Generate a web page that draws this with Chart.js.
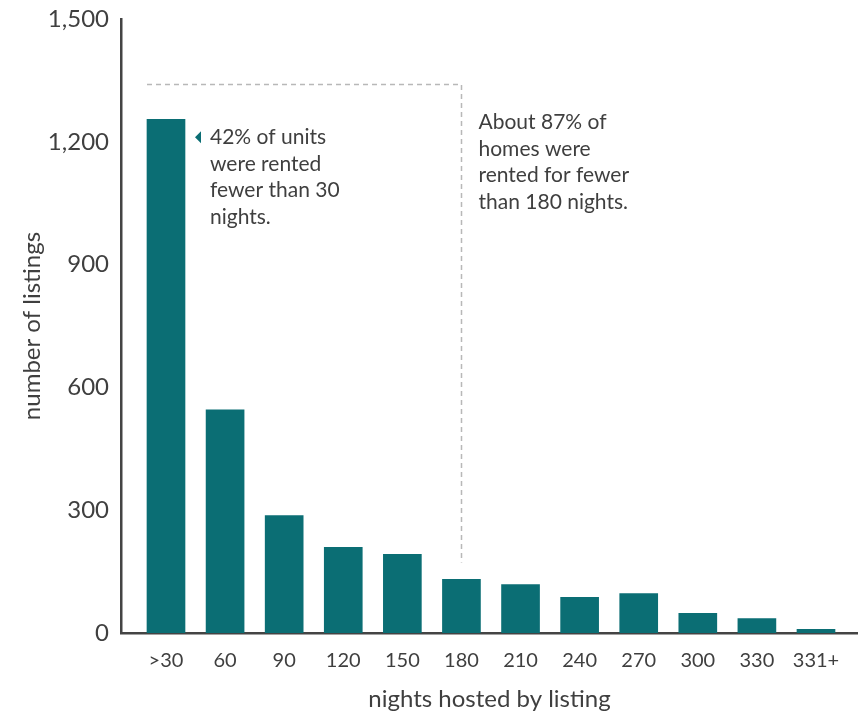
<!DOCTYPE html>
<html>
<head>
<meta charset="utf-8">
<script src="https://cdn.jsdelivr.net/npm/chart.js@4/dist/chart.umd.min.js"></script>
<style>
  html, body { margin: 0; padding: 0; background: #ffffff; }
  canvas { display: block; }
</style>
</head>
<body>
<canvas id="chart" width="858" height="711"></canvas>
<script>
// Nights hosted per listing (binned) and how many listings fall in each bin
const categories = ['>30', '60', '90', '120', '150', '180', '210', '240', '270', '300', '330', '331+'];
const listings = [1255, 545, 287, 209, 192, 131, 118, 87, 96, 48, 35, 9];
const yTickValues = [0, 300, 600, 900, 1200, 1500];

// Callout texts
const shortStayNote = ['42% of units', 'were rented', 'fewer than 30', 'nights.'];
const halfYearNote = ['About 87% of', 'homes were', 'rented for fewer', 'than 180 nights.'];
const bracketLevel = 1340;      // height of the dashed bracket, in listings
const bracketEndIndex = 5;      // bracket closes at the "180" bin

const TEAL = 'rgb(11,110,116)';
const INK = '#3f3f3f';
const FONT = 'Lato, "Open Sans", sans-serif';

const callouts = {
  id: 'callouts',
  afterDatasetsDraw(chart) {
    const { ctx, scales: { y } } = chart;
    const bars = chart.getDatasetMeta(0).data;
    const first = bars[0];
    const end = bars[bracketEndIndex];
    const firstRight = first.x + first.width / 2;
    const firstLeft = first.x - first.width / 2;
    const lineY = Math.round(y.getPixelForValue(bracketLevel)) + 0.5;
    const vx = Math.round(end.x) + 0.5;

    ctx.save();
    // dashed bracket over the bins below 180 nights
    ctx.strokeStyle = '#b8b8b8';
    ctx.lineWidth = 1.5;
    ctx.setLineDash([5, 4]);
    ctx.beginPath();
    ctx.moveTo(firstLeft, lineY);
    ctx.lineTo(vx, lineY);
    ctx.lineTo(vx, end.y - 17);
    ctx.stroke();
    ctx.setLineDash([]);

    ctx.font = '21px ' + FONT;
    ctx.textBaseline = 'middle';
    ctx.textAlign = 'left';
    const lh = 26.5;

    // note beside the first bar, with a small pointer
    const t1 = first.y + 18;
    ctx.fillStyle = TEAL;
    ctx.beginPath();
    ctx.moveTo(firstRight + 10, t1);
    ctx.lineTo(firstRight + 16, t1 - 6);
    ctx.lineTo(firstRight + 16, t1 + 6);
    ctx.closePath();
    ctx.fill();
    ctx.fillStyle = INK;
    shortStayNote.forEach((s, i) => ctx.fillText(s, firstRight + 25, t1 + i * lh));

    // note to the right of the bracket
    const t2 = lineY + 38;
    halfYearNote.forEach((s, i) => ctx.fillText(s, vx + 17, t2 + i * lh));
    ctx.restore();
  }
};

new Chart(document.getElementById('chart'), {
  type: 'bar',
  data: {
    datasets: [{
      data: listings.map((v, i) => ({ x: i, y: v })),
      backgroundColor: TEAL,
      borderWidth: 0,
      barThickness: 38
    }]
  },
  options: {
    responsive: false,
    animation: false,
    layout: { padding: { top: 19, right: 0, bottom: 0, left: 0 } },
    plugins: { legend: { display: false }, tooltip: { enabled: false } },
    scales: {
      x: {
        type: 'linear',
        offset: false,
        min: -0.7615,
        max: 11.711,
        grid: { display: false, drawTicks: false },
        border: { display: true, color: '#444444', width: 2.5 },
        afterFit(scale) { scale.height = 78; scale.paddingLeft = 0; scale.paddingRight = 0; },
        ticks: {
          stepSize: 1,
          includeBounds: false,
          autoSkip: false,
          maxTicksLimit: 30,
          maxRotation: 0,
          padding: 16,
          color: INK,
          font: { family: FONT, size: 20 },
          callback: (v) => (Number.isInteger(v) && categories[v] !== undefined) ? categories[v] : ''
        },
        title: {
          display: true,
          text: 'nights hosted by listing',
          color: INK,
          font: { family: FONT, size: 24 },
          padding: { top: 0, bottom: -3 }
        }
      },
      y: {
        min: 0,
        max: 1500,
        grid: { display: false, drawTicks: false },
        border: { display: true, color: '#444444', width: 2.5 },
        afterFit(scale) { scale.width = 121; scale.paddingTop = 0; scale.paddingBottom = 0; },
        afterBuildTicks(scale) { scale.ticks = yTickValues.map(v => ({ value: v })); },
        ticks: {
          padding: 12,
          color: INK,
          font: { family: FONT, size: 24 },
          callback: (v) => v.toLocaleString('en-US')
        },
        title: {
          display: true,
          text: 'number of listings',
          color: INK,
          font: { family: FONT, size: 24 },
          padding: { top: 18, bottom: 0 }
        }
      }
    }
  },
  plugins: [callouts]
});
</script>
</body>
</html>
